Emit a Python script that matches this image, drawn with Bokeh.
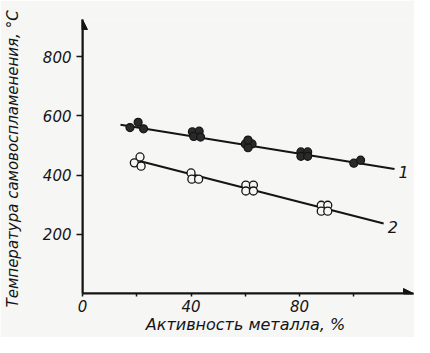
from bokeh.plotting import figure
from bokeh.models import Range1d, FixedTicker, Label, Arrow, NormalHead
from bokeh.embed import file_html
from bokeh.resources import INLINE

# ---- data ----
x_ticks = [0, 20, 40, 60, 80, 100]
x_tick_labels = {0: "0", 20: "", 40: "40", 60: "", 80: "80", 100: ""}
y_ticks = [200, 400, 600, 800]
y_tick_labels = {200: "200", 400: "400", 600: "600", 800: "800"}

# series 1 (filled points)
s1_x = [17.5, 22.5, 20.5, 40.5, 43.0, 41.0, 43.5, 60.0, 62.5, 61.0, 61.0, 80.5, 83.0, 80.5, 83.0, 100.0, 102.5]
s1_y = [560, 556, 578, 546, 548, 530, 528, 505, 505, 492, 518, 478, 478, 463, 463, 440, 450]
# series 2 (open points)
s2_x = [19.1, 21.2, 21.6, 40.0, 40.3, 42.8, 60.2, 63.0, 60.2, 63.0, 88.0, 90.4, 88.0, 90.4]
s2_y = [441, 461, 430, 407, 386, 386, 366, 366, 346, 346, 298, 298, 278, 278]

# fitted lines
line1_x = [14, 115]
line1_y = [570, 420]
line2_x = [21, 111]
line2_y = [447, 236]

series_names = ["1", "2"]

x_label = "Активность  металла, %"
y_label = "Температура  самовоспламенения, °С"

X_MAX = 122
Y_MAX = 925

FONT = "DejaVu Sans"
INK = "#141414"
BG = "#f6f6f4"

p = figure(width=414, height=337, output_backend="svg", toolbar_location=None,
           x_range=Range1d(0, X_MAX), y_range=Range1d(0, Y_MAX),
           min_border_left=79, min_border_right=1, min_border_top=19, min_border_bottom=44,
           background_fill_color=BG, border_fill_color=BG, outline_line_color=None)
p.grid.visible = False

for ax in (p.xaxis[0], p.yaxis[0]):
    ax.axis_line_width = 2
    ax.axis_line_color = INK
    ax.major_tick_line_color = INK
    ax.major_tick_line_width = 1.5
    ax.minor_tick_line_color = None
    ax.major_tick_in = 0
    ax.major_label_text_font = FONT
    ax.major_label_text_font_style = "italic"
    ax.major_label_text_font_size = "15px"
    ax.major_label_text_color = INK
    ax.axis_label_text_font = FONT
    ax.axis_label_text_font_style = "italic"
    ax.axis_label_text_color = INK

p.xaxis.ticker = FixedTicker(ticks=x_ticks)
p.xaxis.major_label_overrides = x_tick_labels
p.xaxis.major_tick_out = 3
p.xaxis.major_label_standoff = 3
p.xaxis.axis_label = x_label
p.xaxis.axis_label_text_font_size = "16px"
p.xaxis.axis_label_standoff = 0

p.yaxis.ticker = FixedTicker(ticks=y_ticks)
p.yaxis.major_label_overrides = y_tick_labels
p.yaxis.major_tick_out = 6
p.yaxis.major_label_standoff = 5
p.yaxis.axis_label = y_label
p.yaxis.axis_label_text_font_size = "15px"
p.yaxis.axis_label_standoff = 18

# axis arrows
p.add_layout(Arrow(end=NormalHead(size=10, fill_color=INK, line_color=INK),
                   x_start=0, y_start=0, x_end=0, y_end=Y_MAX,
                   line_width=2, line_color=INK))
p.add_layout(Arrow(end=NormalHead(size=10, fill_color=INK, line_color=INK),
                   x_start=0, y_start=0, x_end=X_MAX, y_end=0,
                   line_width=2, line_color=INK))

# fitted lines
p.line(line1_x, line1_y, line_width=2, line_color=INK)
p.line(line2_x, line2_y, line_width=2, line_color=INK)

# points
p.scatter(s1_x, s1_y, size=8, fill_color="#2a2a2a", line_color=INK, line_width=1.2)
p.scatter(s2_x, s2_y, size=8, fill_color=BG, line_color=INK, line_width=1.3)

# series labels
for name, lx, ly in ((series_names[0], line1_x, line1_y), (series_names[1], line2_x, line2_y)):
    p.add_layout(Label(x=lx[-1], y=ly[-1], x_offset=4, y_offset=-3, text=name,
                       text_font=FONT, text_font_style="italic", text_font_size="16px",
                       text_color=INK, text_baseline="middle", text_align="left"))

open("out.html", "w").write(file_html(p, INLINE))
